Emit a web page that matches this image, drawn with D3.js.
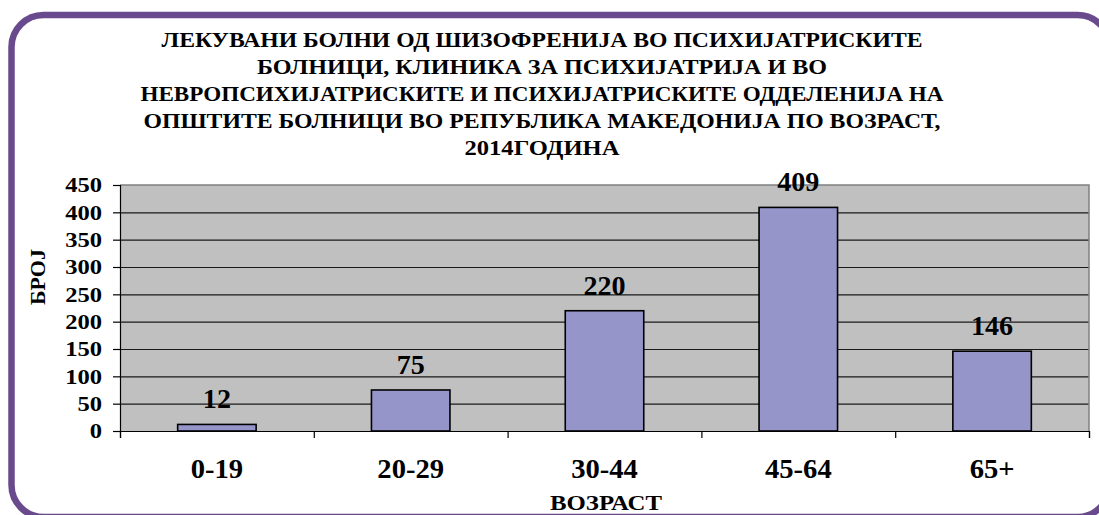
<!DOCTYPE html>
<html>
<head>
<meta charset="utf-8">
<script src="https://cdn.jsdelivr.net/npm/d3@7"></script>
<style>
  body { margin: 0; background: #fff; }
  svg { display: block; }
  text { font-family: "Liberation Serif", "Times New Roman", serif; font-weight: bold; fill: #000; }
</style>
</head>
<body>
<svg id="chart" width="1099" height="515"></svg>
<script>
const categories = ['0-19', '20-29', '30-44', '45-64', '65+'];
const values = [12, 75, 220, 409, 146];
const yTicks = [0, 50, 100, 150, 200, 250, 300, 350, 400, 450];
const titleLines = [
  'ЛЕКУВАНИ БОЛНИ ОД ШИЗОФРЕНИЈА ВО ПСИХИЈАТРИСКИТЕ',
  'БОЛНИЦИ, КЛИНИКА ЗА ПСИХИЈАТРИЈА И ВО',
  'НЕВРОПСИХИЈАТРИСКИТЕ И ПСИХИЈАТРИСКИТЕ ОДДЕЛЕНИЈА НА',
  'ОПШТИТЕ БОЛНИЦИ ВО РЕПУБЛИКА МАКЕДОНИЈА ПО ВОЗРАСТ,',
  '2014ГОДИНА'
];
const titleWidths = [761, 570, 803, 797, 155];
const xTitle = 'ВОЗРАСТ';
const yTitle = 'БРОЈ';

const plot = { left: 120, top: 185, right: 1089, bottom: 431 };
const svg = d3.select('#chart');

// widen text glyphs a bit, the source image is stretched horizontally
function stretch(sel, k) {
  sel.each(function () {
    const w = this.getComputedTextLength();
    d3.select(this).attr('textLength', w * k).attr('lengthAdjust', 'spacingAndGlyphs');
  });
}

// frame
svg.append('rect')
  .attr('x', 11.5).attr('y', 15)
  .attr('width', 1098).attr('height', 502)
  .attr('rx', 32).attr('ry', 32)
  .attr('fill', 'none')
  .attr('stroke', '#694a8c')
  .attr('stroke-width', 6.5);

// title
svg.append('g').selectAll('text')
  .data(titleLines)
  .enter().append('text')
  .attr('x', 542)
  .attr('y', (d, i) => 47 + i * 26.9)
  .attr('text-anchor', 'middle')
  .style('font-size', '21px')
  .attr('textLength', (d, i) => titleWidths[i])
  .attr('lengthAdjust', 'spacingAndGlyphs')
  .text(d => d);

const x = d3.scaleBand()
  .domain(categories)
  .range([plot.left, plot.right]);

const xb = d3.scaleLinear()
  .domain([0, categories.length])
  .range([plot.left, plot.right]);

const y = d3.scaleLinear()
  .domain([0, 450])
  .range([plot.bottom, plot.top]);

// plot background
svg.append('rect')
  .attr('x', plot.left).attr('y', plot.top)
  .attr('width', plot.right - plot.left)
  .attr('height', plot.bottom - plot.top)
  .attr('fill', '#c0c0c0');

// gridlines
svg.append('g')
  .attr('transform', `translate(${plot.left},0)`)
  .call(d3.axisLeft(y).tickValues(yTicks.filter(v => v > 0 && v < 450))
    .tickSize(-(plot.right - plot.left)).tickFormat(''))
  .call(g => g.select('.domain').remove())
  .call(g => g.selectAll('line').attr('stroke', '#1a1a1a').attr('stroke-width', 1.2));

// plot border top / right
svg.append('path')
  .attr('d', `M${plot.left},${plot.top}H${plot.right}V${plot.bottom}`)
  .attr('fill', 'none')
  .attr('stroke', '#808080')
  .attr('stroke-width', 1.5);

// bars
const barW = x.bandwidth() * 0.405;
svg.append('g').selectAll('rect')
  .data(values)
  .enter().append('rect')
  .attr('x', (d, i) => x(categories[i]) + (x.bandwidth() - barW) / 2)
  .attr('y', d => y(d))
  .attr('width', barW)
  .attr('height', d => y(0) - y(d))
  .attr('fill', '#9595c9')
  .attr('stroke', '#000')
  .attr('stroke-width', 1.6);

// data labels
svg.append('g').selectAll('text')
  .data(values)
  .enter().append('text')
  .attr('x', (d, i) => x(categories[i]) + x.bandwidth() / 2)
  .attr('y', d => y(d) - 16)
  .attr('text-anchor', 'middle')
  .style('font-size', '27px')
  .text(d => d)
  .call(stretch, 1.04);

// y axis
const yAxis = svg.append('g')
  .attr('transform', `translate(${plot.left},0)`)
  .call(d3.axisLeft(y).tickValues(yTicks).tickSize(7).tickPadding(11));
yAxis.selectAll('path, line').attr('stroke', '#000').attr('stroke-width', 1.2);
yAxis.selectAll('text')
  .attr('font-family', null).attr('font-size', null)
  .style('font-size', '21px')
  .call(stretch, 1.17);

// x axis tick marks on category boundaries
const xAxis = svg.append('g')
  .attr('transform', `translate(0,${plot.bottom})`)
  .call(d3.axisBottom(xb).tickValues(d3.range(categories.length + 1)).tickSize(7).tickFormat(''));
xAxis.selectAll('path, line').attr('stroke', '#000').attr('stroke-width', 1.2);

// x labels
const xLabels = svg.append('g')
  .attr('transform', `translate(0,${plot.bottom})`)
  .call(d3.axisBottom(x).tickSize(0).tickPadding(0));
xLabels.select('.domain').remove();
xLabels.selectAll('text')
  .attr('font-family', null).attr('font-size', null)
  .attr('y', 47).attr('dy', 0)
  .style('font-size', '27px')
  .call(stretch, 1.06);

// axis titles
svg.append('text')
  .attr('x', 606).attr('y', 510)
  .attr('text-anchor', 'middle')
  .style('font-size', '21px')
  .attr('textLength', 112)
  .attr('lengthAdjust', 'spacingAndGlyphs')
  .text(xTitle);

svg.append('text')
  .attr('transform', 'translate(45,277) rotate(-90)')
  .attr('text-anchor', 'middle')
  .style('font-size', '22px')
  .text(yTitle);
</script>
</body>
</html>
